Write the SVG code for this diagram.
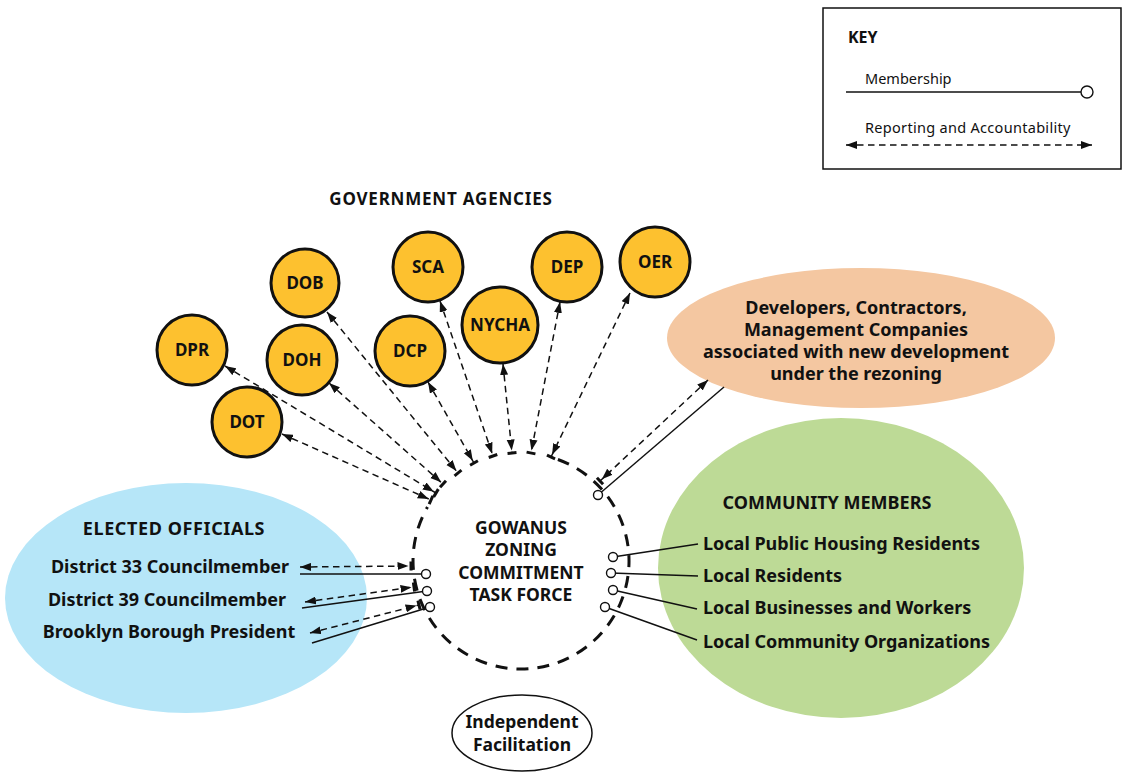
<svg xmlns="http://www.w3.org/2000/svg" width="1126" height="776" viewBox="0 0 1126 776">
<style>
text{font-family:"Noto Sans","DejaVu Sans",sans-serif;fill:#111}
.b{font-weight:700;font-size:17px}
.l{font-size:18px}
.c{text-anchor:middle}
.ag{fill:#FDC12F;stroke:#111;stroke-width:3}
.dash{fill:none;stroke:#111;stroke-width:1.5;stroke-dasharray:6.5 4.5}
.sol{fill:none;stroke:#111;stroke-width:1.5}
.dot{fill:#fff;stroke:#111;stroke-width:1.4}
.key{font-size:14.5px}
</style>
<defs>
<marker id="ah" viewBox="0 0 11 8" refX="11" refY="4" markerWidth="11" markerHeight="8" markerUnits="userSpaceOnUse" orient="auto-start-reverse"><path d="M0,0 L11,4 L0,8z" fill="#111"/></marker>
<marker id="ab" viewBox="0 0 16 12" refX="13.5" refY="6" markerWidth="16" markerHeight="12" markerUnits="userSpaceOnUse" orient="auto"><path d="M0,2 L11,6 L0,10z" fill="#111"/><rect x="12" y="1.5" width="3" height="9" fill="#111"/></marker>
</defs>
<rect width="1126" height="776" fill="#fff"/>

<g id="key">
<rect x="823" y="8" width="298" height="161" fill="#fff" stroke="#111" stroke-width="1.5"/>
<text x="848" y="43" class="b" style="font-size:16px">KEY</text>
<text x="865" y="84" class="key">Membership</text>
<line x1="846" y1="92" x2="1081" y2="92" class="sol"/>
<circle cx="1087" cy="92" r="6" class="dot" stroke-width="1.6"/>
<text x="865" y="133" class="key" style="letter-spacing:0.3px">Reporting and Accountability</text>
<line x1="846" y1="145" x2="1092" y2="145" class="dash" marker-start="url(#ah)" marker-end="url(#ah)"/>
</g>

<g id="elected-officials">
<ellipse cx="186" cy="598" rx="181" ry="115" fill="#B6E6F8"/>
<text x="174" y="535" class="b l c" style="letter-spacing:0.6px">ELECTED OFFICIALS</text>
<text x="170" y="573" class="b l c">District 33 Councilmember</text>
<text x="167" y="606" class="b l c">District 39 Councilmember</text>
<text x="169" y="638" class="b l c">Brooklyn Borough President</text>
</g>

<g id="community-members">
<ellipse cx="841" cy="568" rx="183" ry="150" fill="#BDDA96"/>
<text x="827" y="509" class="b l c">COMMUNITY MEMBERS</text>
<text x="703" y="550" class="b l">Local Public Housing Residents</text>
<text x="703" y="582" class="b l">Local Residents</text>
<text x="703" y="614" class="b l">Local Businesses and Workers</text>
<text x="703" y="648" class="b l">Local Community Organizations</text>
</g>

<g id="developers">
<ellipse cx="861" cy="338" rx="194" ry="70" fill="#F4C7A1"/>
<text x="856" y="314" class="b l c">Developers, Contractors,</text>
<text x="856" y="336" class="b l c">Management Companies</text>
<text x="856" y="358" class="b l c">associated with new development</text>
<text x="856" y="380" class="b l c">under the rezoning</text>
</g>

<g id="task-force">
<path d="M557.9,459.5 A108,108 0 1 1 427.5,507" fill="none" stroke="#111" stroke-width="3" stroke-dasharray="12 9"/>
<text x="521" y="534" class="b c" style="font-size:17.5px">GOWANUS</text>
<text x="521" y="556" class="b c" style="font-size:17.5px">ZONING</text>
<text x="521" y="579" class="b c" style="font-size:17.5px">COMMITMENT</text>
<text x="521" y="601" class="b c" style="font-size:17.5px">TASK FORCE</text>
</g>

<g id="independent-facilitation">
<ellipse cx="522" cy="733" rx="70" ry="38" fill="#fff" stroke="#111" stroke-width="1.5"/>
<text x="522" y="728" class="b c" style="font-size:17.5px">Independent</text>
<text x="522" y="751" class="b c" style="font-size:17.5px">Facilitation</text>
</g>

<text id="agencies-title" x="441" y="205" class="b c" style="letter-spacing:0.8px">GOVERNMENT AGENCIES</text>

<g id="agency-DPR"><circle cx="192" cy="350" r="35" class="ag"/><text x="192" y="356" class="b c">DPR</text></g>
<g id="agency-DOB"><circle cx="305" cy="283" r="34" class="ag"/><text x="305" y="289" class="b c">DOB</text></g>
<g id="agency-DOH"><circle cx="302" cy="360" r="35" class="ag"/><text x="302" y="366" class="b c">DOH</text></g>
<g id="agency-DOT"><circle cx="247" cy="422" r="35" class="ag"/><text x="247" y="428" class="b c">DOT</text></g>
<g id="agency-DCP"><circle cx="410" cy="351" r="35" class="ag"/><text x="410" y="357" class="b c">DCP</text></g>
<g id="agency-SCA"><circle cx="428" cy="267" r="35" class="ag"/><text x="428" y="273" class="b c">SCA</text></g>
<g id="agency-NYCHA"><circle cx="500" cy="325" r="38" class="ag"/><text x="500" y="331" class="b c">NYCHA</text></g>
<g id="agency-DEP"><circle cx="567" cy="267" r="35" class="ag"/><text x="567" y="273" class="b c">DEP</text></g>
<g id="agency-OER"><circle cx="655" cy="262" r="35" class="ag"/><text x="655" y="268" class="b c">OER</text></g>

<g id="connectors">
<line x1="225" y1="366" x2="436" y2="493" class="dash" marker-start="url(#ah)" marker-end="url(#ab)"/>
<line x1="282" y1="434" x2="431" y2="500" class="dash" marker-start="url(#ah)" marker-end="url(#ab)"/>
<line x1="329" y1="383" x2="443" y2="484" class="dash" marker-start="url(#ah)" marker-end="url(#ab)"/>
<line x1="327" y1="312" x2="458" y2="473" class="dash" marker-start="url(#ah)" marker-end="url(#ab)"/>
<line x1="428" y1="382" x2="474" y2="463" class="dash" marker-start="url(#ah)" marker-end="url(#ab)"/>
<line x1="440" y1="301" x2="493" y2="456" class="dash" marker-start="url(#ah)" marker-end="url(#ab)"/>
<line x1="503" y1="364" x2="512" y2="453" class="dash" marker-start="url(#ah)" marker-end="url(#ab)"/>
<line x1="560" y1="302" x2="531" y2="453" class="dash" marker-start="url(#ah)" marker-end="url(#ab)"/>
<line x1="630" y1="293" x2="551" y2="457" class="dash" marker-start="url(#ah)" marker-end="url(#ab)"/>

<line x1="708" y1="380" x2="600" y2="481" class="dash" marker-start="url(#ah)" marker-end="url(#ab)"/>
<line x1="724" y1="387" x2="598" y2="495" class="sol"/>
<circle cx="598" cy="495" r="4.5" class="dot"/>

<line x1="300" y1="567" x2="411" y2="566" class="dash" marker-start="url(#ah)" marker-end="url(#ab)"/>
<line x1="305" y1="602" x2="414" y2="587" class="dash" marker-start="url(#ah)" marker-end="url(#ab)"/>
<line x1="310" y1="633" x2="419" y2="605" class="dash" marker-start="url(#ah)" marker-end="url(#ab)"/>
<line x1="300" y1="574" x2="426" y2="574" class="sol"/>
<line x1="302" y1="608" x2="427" y2="591" class="sol"/>
<line x1="312" y1="643" x2="430" y2="607" class="sol"/>
<circle cx="426" cy="574" r="4.5" class="dot"/>
<circle cx="427" cy="591" r="4.5" class="dot"/>
<circle cx="430" cy="607" r="4.5" class="dot"/>

<line x1="613" y1="557" x2="698" y2="544" class="sol"/>
<line x1="611" y1="573" x2="698" y2="576" class="sol"/>
<line x1="613" y1="590" x2="697" y2="609" class="sol"/>
<line x1="605" y1="607" x2="697" y2="640" class="sol"/>
<circle cx="613" cy="557" r="4.5" class="dot"/>
<circle cx="611" cy="573" r="4.5" class="dot"/>
<circle cx="613" cy="590" r="4.5" class="dot"/>
<circle cx="605" cy="607" r="4.5" class="dot"/>
</g>
</svg>
